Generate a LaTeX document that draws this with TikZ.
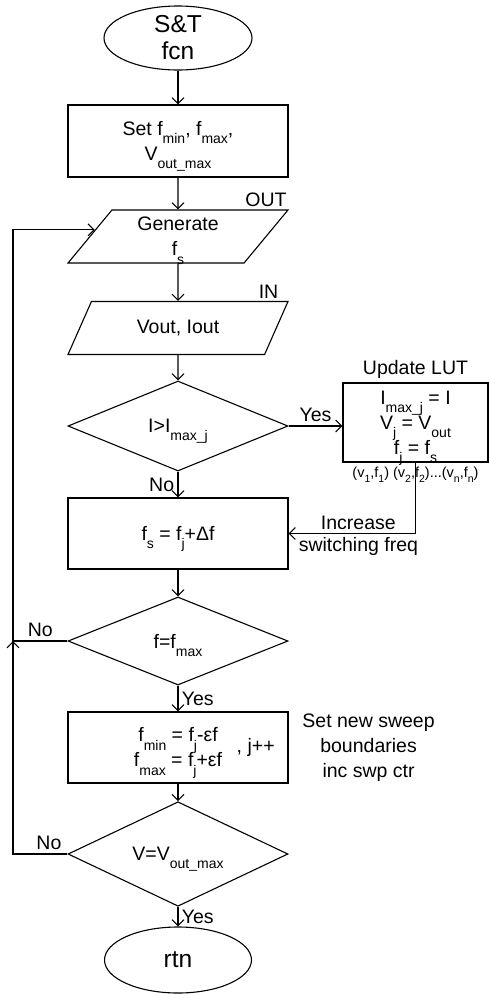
\documentclass[tikz,border=0pt]{standalone}
\usepackage{fontspec}
\setmainfont{Liberation Sans}
\usetikzlibrary{positioning,arrows.meta,shapes.geometric,calc}
\newcommand{\sbs}[1]{\raisebox{-0.42em}[0pt][0pt]{\fontsize{14}{14}\selectfont #1}}
\newcommand{\smsbs}[1]{\raisebox{-0.35em}{\fontsize{10.5}{10.5}\selectfont #1}}

\begin{document}
\begin{tikzpicture}[x=1pt,y=-1pt,>={Straight Barb[length=6pt,width=12pt]},
	line width=1.1pt,
	every node/.style={font=\fontsize{19.5}{25}\selectfont},
	term/.style={draw,ellipse,minimum width=148pt,minimum height=64pt,inner sep=0pt,align=center,
		font=\fontsize{24.5}{27}\selectfont},
	proc/.style={draw,rectangle,minimum width=220pt,minimum height=71pt,inner sep=0pt,align=center},
	io/.style={draw,trapezium,trapezium left angle=55,trapezium right angle=125,
		trapezium stretches=true,minimum width=220pt,minimum height=53pt,inner sep=0pt,align=center},
	decide/.style={draw,diamond,minimum width=220pt,minimum height=90pt,inner sep=0pt,align=center}]
	\useasboundingbox (0,0) rectangle (489,994);

	\node[term] (start) at (178,38) {S\&T\\fcn};
	\node[proc,minimum height=72pt] (setb) at (178,141)
		{Set f\sbs{min}, f\sbs{max},\\V\sbs{out\_max}};
	\node[io] (gen) at (178,236.5) {Generate\\f\sbs{s}};
	\node[anchor=south east,inner sep=2pt] (outl) at (gen.top right corner) {OUT};
	\node[io] (inp) at (178,328) {Vout, Iout};
	\node[anchor=south east,inner sep=2pt,xshift=-8pt] (inl) at (inp.top right corner) {IN};
	\node[decide] (chk) at (178,426) {I>I\sbs{max\_j}};
	\node[proc,minimum width=145pt,minimum height=79pt,
		  label={[inner sep=3pt]above:Update LUT},
		  label={[font=\fontsize{14.5}{15}\selectfont,inner sep=4pt]below:(v\smsbs{1},f\smsbs{1}) (v\smsbs{2},f\smsbs{2})...(v\smsbs{n},f\smsbs{n})}]
		  (lut) at (415.5,422.5) {I\sbs{max\_j} = I\\V\sbs{j} = V\sbs{out}\\f\sbs{j} = f\sbs{s}};
	\node[proc] (fsb) at (178,533.5) {f\sbs{s} = f\sbs{j}+Δf};
	\node[decide,minimum height=88pt] (fmx) at (178,641) {f=f\sbs{max}};
	\node[proc,
		  label={[anchor=east,label distance=-10pt]east:{, j++}},
		  label={[align=center,label distance=10pt]right:Set new sweep\\boundaries\\inc swp ctr}]
		  (newb) at (178,747.5) {f\sbs{min} = f\sbs{j}-εf\\f\sbs{max} = f\sbs{j}+εf};
	\node[decide] (vmx) at (178,854) {V=V\sbs{out\_max}};
	\node[term,minimum width=147pt,minimum height=66pt] (stop) at (178,960) {rtn};

	% loop back points
	\coordinate (loopA) at (13,854);
	\coordinate (loopB) at (13,641);
	\coordinate (ret) at (415.5,533.5);
	\coordinate (genin) at ($(gen.top left corner)!0.377!(gen.bottom left corner)$);

	\draw[->] (start) -- (setb);
	\draw[->] (setb) -- (gen);
	\draw[->] (gen) -- (inp);
	\draw[->] (inp) -- (chk);
	\draw[->] (chk.east) -- node[above]{Yes} (chk.east -| lut.west);
	\draw[->] (chk) -- node[left]{No} (fsb);
	\draw[->] (lut.south) -- (ret) -- node[above,pos=0.45]{Increase}
		node[below,pos=0.45]{switching freq} (fsb.east);
	\draw[->] (fsb) -- (fmx);
	\draw[->] (fmx) -- node[right]{Yes} (newb);
	\draw[->] (newb) -- (vmx);
	\draw[->] (vmx) -- node[right]{Yes} (stop);
	\draw[->] (vmx.west) -- node[above,pos=0.34]{No} (loopA) -- (loopB);
	\draw[->] (fmx.west) -- node[above]{No} (loopB) -- (loopB |- genin) -- (genin);
\end{tikzpicture}
\end{document}
